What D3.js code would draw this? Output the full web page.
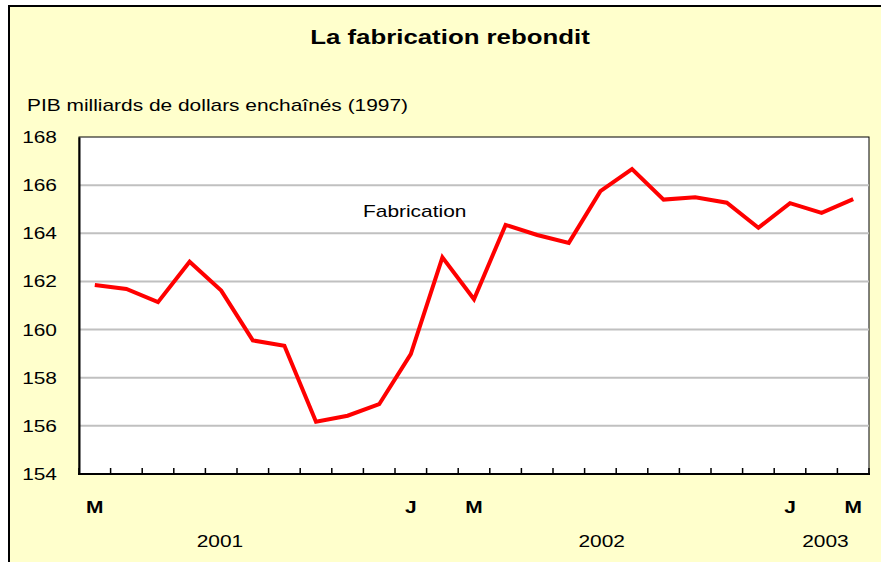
<!DOCTYPE html>
<html>
<head>
<meta charset="utf-8">
<script src="https://cdn.jsdelivr.net/npm/d3@7"></script>
<style>
  body { margin: 0; background: #fff; }
  svg text { font-family: "Liberation Sans", Arial, sans-serif; fill: #000; }
</style>
</head>
<body>
<div id="chart"></div>
<script>
// mars 2001 .. mars 2003
var months = ["M", "", "", "", "", "", "", "", "", "", "J", "", "M", "", "", "", "", "", "", "", "", "", "J", "", "M"];
var fabrication = [161.85, 161.69, 161.14, 162.82, 161.62, 159.55, 159.33, 156.17, 156.42, 156.9,
    158.98, 163.0, 161.26, 164.35, 163.93, 163.6, 165.75, 166.67, 165.4, 165.5,
    165.27, 164.23, 165.25, 164.85, 165.42];
var yTicks = [154, 156, 158, 160, 162, 164, 166, 168];
var years = ["2001", "2002", "2003"];
var yearPos = [3.96, 16.04, 23.12]; // position in month units

function init() {
    var w = 881;
    var h = 562;
    var left = 79, right = 869, top = 137, bottom = 474;
    var sx = 1.23; // the original text is a bit wider than Arial

    var svg = d3.select("#chart")
        .append("svg")
        .attr("width", w)
        .attr("height", h);

    // put a stretched text at x, y
    function label(x, y, txt, size, anchor, bold) {
        return svg.append("text")
            .attr("transform", "translate(" + x + "," + y + ") scale(" + sx + ",1)")
            .attr("text-anchor", anchor)
            .style("font-size", size + "px")
            .style("font-weight", bold ? "bold" : "normal")
            .text(txt);
    }

    // chart background
    svg.append("rect")
        .attr("x", 9).attr("y", 6)
        .attr("width", 900).attr("height", 600)
        .attr("fill", "#FFFFCC")
        .attr("stroke", "#000")
        .attr("stroke-width", 2);

    var xScale = d3.scaleBand()
        .domain(d3.range(months.length))
        .range([left, right]);

    var yScale = d3.scaleLinear()
        .domain([154, 168])
        .range([bottom, top]);

    // plot area
    svg.append("rect")
        .attr("x", left).attr("y", top)
        .attr("width", right - left).attr("height", bottom - top)
        .attr("fill", "#fff")
        .attr("stroke", "#000")
        .attr("stroke-width", 1);

    // gridlines
    svg.selectAll(".grid")
        .data(yTicks.slice(1, -1))
        .enter()
        .append("line")
        .attr("class", "grid")
        .attr("x1", left).attr("x2", right)
        .attr("y1", function (d) { return yScale(d); })
        .attr("y2", function (d) { return yScale(d); })
        .attr("stroke", "#c0c0c0")
        .attr("stroke-width", 2);

    // y axis
    var yAxis = svg.append("g")
        .attr("transform", "translate(" + left + ",0)")
        .call(d3.axisLeft(yScale).tickValues(yTicks).tickSize(0).tickFormat(""));
    yAxis.select(".domain").attr("stroke", "#000").attr("stroke-width", 2);

    yTicks.forEach(function (d) {
        label(57, yScale(d) + 6, d, 17, "end", false);
    });

    // x axis, ticks between months
    var bounds = d3.range(months.length + 1).map(function (i) { return left + i * xScale.bandwidth(); });
    svg.selectAll(".xtick")
        .data(bounds)
        .enter()
        .append("line")
        .attr("class", "xtick")
        .attr("x1", function (d) { return d; })
        .attr("x2", function (d) { return d; })
        .attr("y1", bottom)
        .attr("y2", bottom - 6)
        .attr("stroke", "#000")
        .attr("stroke-width", 1.5);

    svg.append("line")
        .attr("x1", left - 1).attr("x2", right + 1)
        .attr("y1", bottom).attr("y2", bottom)
        .attr("stroke", "#000")
        .attr("stroke-width", 2);

    months.forEach(function (d, i) {
        if (d) label(xScale(i) + xScale.bandwidth() / 2, 513, d, 17, "middle", true);
    });

    years.forEach(function (d, i) {
        label(left + (yearPos[i] + 0.5) * xScale.bandwidth(), 547, d, 17, "middle", false);
    });

    // line
    var line = d3.line()
        .x(function (d, i) { return xScale(i) + xScale.bandwidth() / 2; })
        .y(function (d) { return yScale(d); });

    svg.append("path")
        .datum(fabrication)
        .attr("d", line)
        .attr("fill", "none")
        .attr("stroke", "#FF0000")
        .attr("stroke-width", 4)
        .attr("stroke-linejoin", "miter");

    // texts
    label(450, 44, "La fabrication rebondit", 21, "middle", true);
    label(27, 111, "PIB milliards de dollars enchaînés (1997)", 17, "start", false);
    label(363, 217, "Fabrication", 17, "start", false);
}

window.onload = init;
</script>
</body>
</html>
